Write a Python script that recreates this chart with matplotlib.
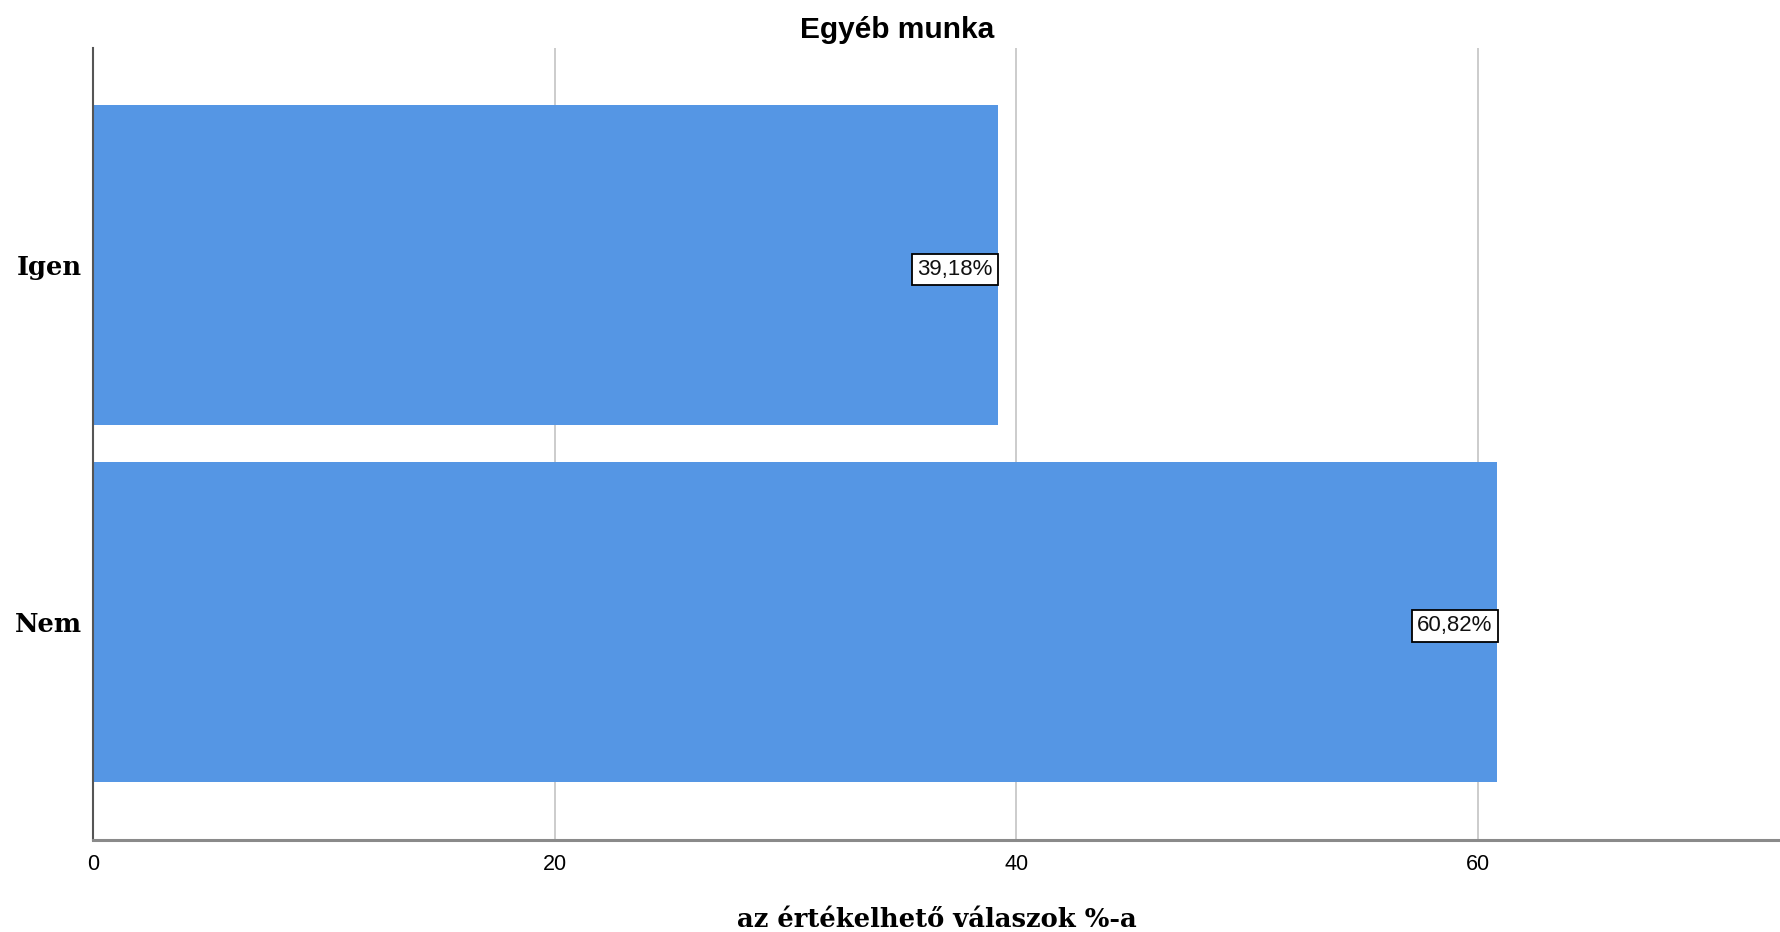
import matplotlib.pyplot as plt

categories = ['Igen', 'Nem']
values = [39.18, 60.82]
labels = ['39,18%', '60,82%']
xticks = [0, 20, 40, 60]

bar_color = '#5596e4'

fig = plt.figure(figsize=(17.8, 9.32), dpi=100)
ax = fig.add_axes([0.0522, 0.0987, 0.9478, 0.8501])

ypos = list(range(len(categories)))
ax.barh(ypos, values, height=0.898, color=bar_color, zorder=2)

for y, v, lab in zip(ypos, values, labels):
    ax.annotate(lab, xy=(v, y), xytext=(-3.5, -3), textcoords='offset points',
                ha='right', va='center', fontsize=16, family='Liberation Sans',
                color='#111111', zorder=4,
                bbox=dict(boxstyle='square,pad=0.24', fc='white', ec='black', lw=1.3))

ax.set_xlim(0, 73.07)
ax.set_ylim(1.612, -0.61)
ax.set_xticks(xticks)
ax.set_xticklabels([str(t) for t in xticks], fontsize=15.5, family='Liberation Sans')
ax.set_yticks(ypos)
ax.set_yticklabels(categories, fontsize=18.5, family='DejaVu Serif', fontweight='bold')
ax.tick_params(axis='both', length=0, pad=8)
ax.tick_params(axis='x', pad=10)

ax.grid(axis='x', color='#c8c8c8', lw=1.3, zorder=1)
ax.set_axisbelow(True)
for s in ['top', 'right']:
    ax.spines[s].set_visible(False)
ax.spines['left'].set_color('#555555')
ax.spines['left'].set_linewidth(1.5)
ax.spines['bottom'].set_color('#8a8a8a')
ax.spines['bottom'].set_linewidth(2.2)

ax.set_xlabel('az értékelhető válaszok %-a', fontsize=18.6, family='DejaVu Serif',
              fontweight='bold', labelpad=23)
fig.text(0.504, 0.968, 'Egyéb munka', ha='center', va='center', fontsize=21.5,
         family='Liberation Sans', fontweight='bold')

fig.savefig('out.png', dpi=100, facecolor='white')
